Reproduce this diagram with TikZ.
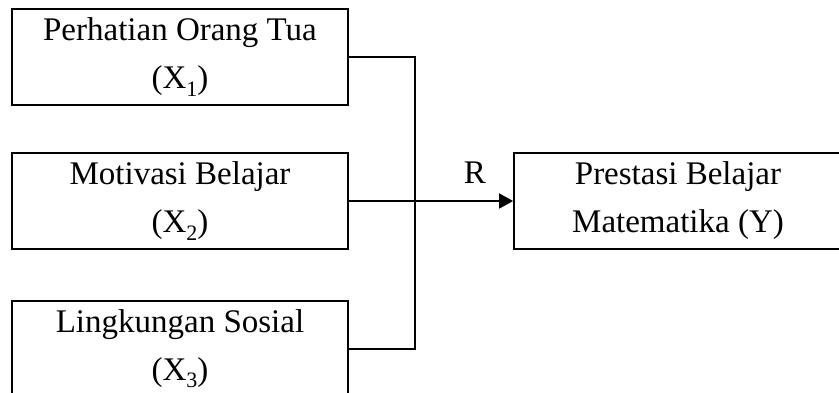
\documentclass[tikz,border=0pt]{standalone}
\usepackage{fontspec}
\setmainfont{Liberation Serif}
\usetikzlibrary{arrows.meta}
\newcommand{\sbs}[1]{\raisebox{-0.22em}{\fontsize{22}{22}\selectfont #1}}
\begin{document}
\begin{tikzpicture}[x=1pt,y=-1pt,
  varbox/.style={draw,line width=1.8pt,minimum width=336pt,minimum height=96pt,inner sep=0pt,align=center,font=\fontsize{33}{48}\selectfont},
  link/.style={line width=1.8pt},
  lbl/.style={inner sep=0pt,font=\fontsize{33}{38}\selectfont}]
\useasboundingbox (0,0) rectangle (839,392);
\clip (0,0) rectangle (839,392);
\node[varbox] (x1) at (180,57) {Perhatian Orang Tua\\(X\sbs{1})};
\node[varbox] (x2) at (180,201) {Motivasi Belajar\\(X\sbs{2})};
\node[varbox] (x3) at (180,349) {Lingkungan Sosial\\(X\sbs{3})};
\node[varbox,minimum width=340pt] (y) at (684,201) {\hspace*{-12pt}Prestasi Belajar\\\hspace*{-12pt}Matematika (Y)};
\coordinate (jx) at (415,0);
\draw[link] (x1.east) -| (jx |- x3.east) -- (x3.east);
\draw[link,-{Triangle[length=14pt,width=15pt]}] (x2.east) -- (y.west);
\node[lbl,anchor=base] (r) at (475,183) {R};
\end{tikzpicture}
\end{document}
